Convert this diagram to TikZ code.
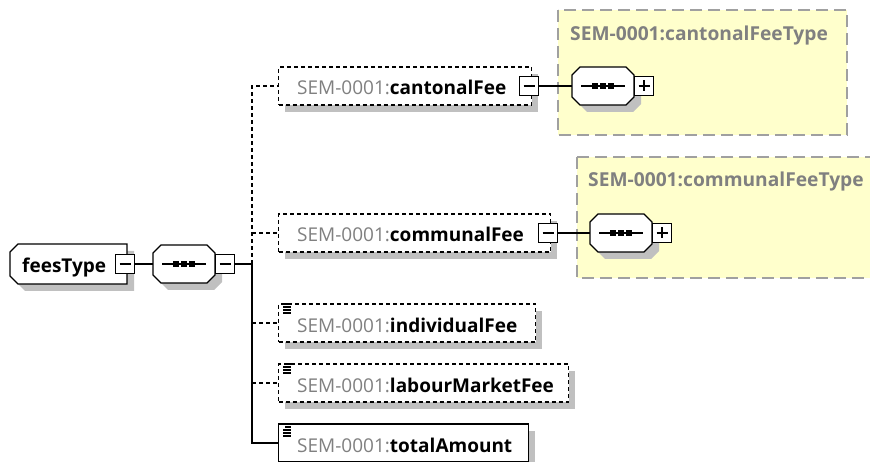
\documentclass[tikz,border=0pt]{standalone}
\usepackage{fontspec}
\setmainfont{Open Sans}
\usetikzlibrary{calc}

\definecolor{shadowgray}{RGB}{192,192,192}
\definecolor{nsgray}{RGB}{128,128,128}
\definecolor{typefill}{RGB}{255,255,204}
\definecolor{typeline}{RGB}{160,160,160}

\tikzset{
  link/.style={draw=black, line width=1.3pt},
  optline/.style={dash pattern=on 4pt off 3pt},
  dropshade/.style={fill=shadowgray, draw=none},
  elembox/.style={draw=black, fill=white, line width=1.3pt, minimum height=38pt,
    inner sep=0pt, anchor=west},
  optbox/.style={elembox, optline},
  togglebox/.style={draw=black, fill=white, line width=1.3pt, minimum size=19pt, inner sep=0pt},
  nstext/.style={anchor=base west, inner sep=0pt, font=\fontsize{19}{22}\selectfont},
  typebox/.style={draw=typeline, fill=typefill, line width=1.5pt, dash pattern=on 12pt off 6pt},
  typetitle/.style={anchor=base west, inner sep=0pt, text=nsgray,
    font=\bfseries\fontsize{19.2}{22}\selectfont},
}

% expand/collapse buttons: name, x, y
\newcommand\xminus[3]{%
  \node[togglebox] (#1) at (#2,#3) {};
  \draw[link] (#2-5.5,#3) -- (#2+5.5,#3);}
\newcommand\xplus[3]{%
  \xminus{#1}{#2}{#3}
  \draw[link] (#2,#3-5.5) -- (#2,#3+5.5);}

% sequence compositor: name, cx, cy
\newcommand\seqgroup[3]{%
  \fill[dropshade] (#2-23+7,#3-19+7) -- ++(46,0) -- ++(8,8) -- ++(0,22) -- ++(-8,8)
    -- ++(-46,0) -- ++(-8,-8) -- ++(0,-22) -- cycle;
  \draw[link, fill=white] (#2-23,#3-19) -- ++(46,0) -- ++(8,8) -- ++(0,22) -- ++(-8,8)
    -- ++(-46,0) -- ++(-8,-8) -- ++(0,-22) -- cycle;
  \node[minimum width=62pt, minimum height=38pt, inner sep=0pt] (#1) at (#2,#3) {};
  \draw[link] (#2-22,#3) -- (#2+22,#3);
  \foreach \d in {-8,0,8} \fill (#2+\d-3,#3-3) rectangle ++(6,6);}

% element box: name, left x, centre y, width, box style, local name
\newcommand\xelement[6]{%
  \fill[dropshade] (#2+7,#3-19+7) rectangle (#2+#4+7,#3+19+7);
  \node[#5, minimum width=#4pt] (#1) at (#2,#3) {};
  \node[nstext] (#1-label) at (#2+19,#3+9)
    {\textcolor{nsgray}{SEM-0001:}\textbf{#6}};}

% "simple content" mark in the upper left corner of a box
\newcommand\simplemark[2]{%
  \draw[line width=1.3pt] (#1+7,#2+2) -- ++(6,0)
    (#1+5,#2+5) -- ++(8,0) (#1+5,#2+8) -- ++(8,0) (#1+5,#2+11) -- ++(8,0);}

\begin{document}
\begin{tikzpicture}[x=1pt, y=-1pt]
  \clip (0,0) rectangle (870,462);
  \fill[white] (0,0) rectangle (870,462);

  % complex types of the two fee elements
  \draw[typebox] (558,10) rectangle (847,135);
  \node[typetitle] (cantonalType) at (570,41) {SEM-0001:cantonalFeeType};
  \draw[typebox] (577,157) rectangle (885,278);
  \node[typetitle] (communalType) at (588,187) {SEM-0001:communalFeeType};

  % root type
  \fill[dropshade] (18+7,244+7) -- (127+7,244+7) -- (127+7,284+7) -- (18+7,284+7)
    -- (10+7,276+7) -- (10+7,252+7) -- cycle;
  \draw[link, fill=white] (18,244) -- (127,244) -- (127,284) -- (18,284)
    -- (10,276) -- (10,252) -- cycle;
  \node[minimum width=117pt, minimum height=40pt, inner sep=0pt] (fees) at (68.5,264) {};
  \node[anchor=base west, inner sep=0pt, font=\bfseries\fontsize{19}{22}\selectfont]
    (feesLabel) at (22,273) {feesType};
  \xminus{feesM}{125}{264}

  % top-level sequence
  \seqgroup{seqA}{184}{264}
  \xminus{seqAM}{225}{264}

  % child elements
  \xelement{cantonal}{278}{86}{253}{optbox}{cantonalFee}
  \xminus{cantonalM}{529}{86}
  \xelement{communal}{278}{233}{272}{optbox}{communalFee}
  \xminus{communalM}{548}{233}
  \xelement{indiv}{278}{323}{257}{optbox}{individualFee}
  \simplemark{278}{302}
  \xelement{labour}{278}{383}{290}{optbox}{labourMarketFee}
  \simplemark{278}{362}
  \xelement{total}{278}{443}{250}{elembox}{totalAmount}
  \simplemark{278}{425}

  % sequences inside the fee types
  \seqgroup{seqB}{603}{86}
  \xplus{seqBP}{644}{86}
  \seqgroup{seqC}{621}{233}
  \xplus{seqCP}{662}{233}

  % connectors
  \draw[link] (feesM.east) -- (seqA.west);
  \coordinate (bus) at (252,264);
  \draw[link] (seqAM.east) -- (bus);
  \draw[link, optline] (bus) -- (bus |- cantonal.west) -- (cantonal.west);
  \draw[link, optline] (bus |- communal.west) -- (communal.west);
  \draw[link] (bus) |- (total.west);
  \draw[link, optline] (bus |- indiv.west) -- (indiv.west);
  \draw[link, optline] (bus |- labour.west) -- (labour.west);
  \draw[link] (cantonalM.east) -- (seqB.west);
  \draw[link] (communalM.east) -- (seqC.west);
\end{tikzpicture}
\end{document}
